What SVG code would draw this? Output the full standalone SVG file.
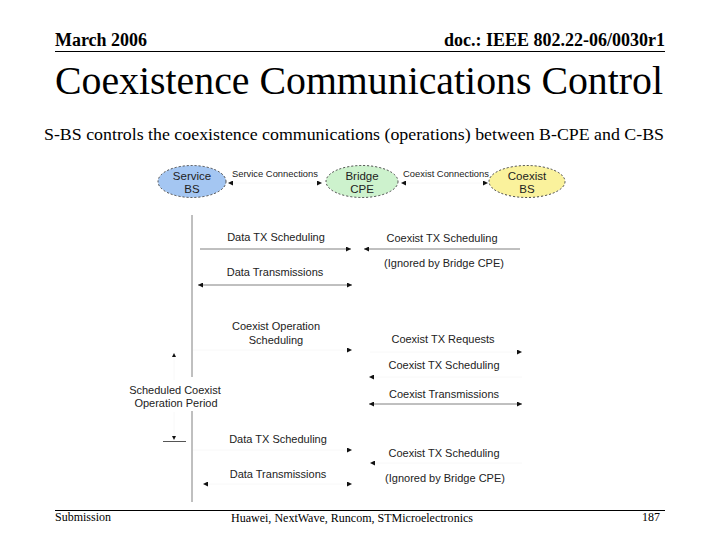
<svg xmlns="http://www.w3.org/2000/svg" width="720" height="540" viewBox="0 0 720 540">
<defs>
<marker id="ah" viewBox="0 0 6 6" refX="6" refY="3" markerWidth="6" markerHeight="5" markerUnits="userSpaceOnUse" orient="auto-start-reverse">
<path d="M0,0 L6,3 L0,6 z" fill="#111"/>
</marker>
<marker id="sm" viewBox="0 0 6 6" refX="6" refY="3" markerWidth="4" markerHeight="4" markerUnits="userSpaceOnUse" orient="auto-start-reverse">
<path d="M0,0 L6,3 L0,6 z" fill="#111"/>
</marker>
<style>
.hdr{font-family:"Liberation Serif","Times New Roman",serif;font-weight:bold;font-size:18px;fill:#000}
.ttl{font-family:"Liberation Serif","Times New Roman",serif;font-size:39px;fill:#000}
.sub{font-family:"Liberation Serif","Times New Roman",serif;font-size:17px;fill:#000}
.ftr{font-family:"Liberation Serif","Times New Roman",serif;font-size:12px;fill:#000}
.nd{font-family:"Liberation Sans",Arial,sans-serif;font-size:11.5px;fill:#222;text-anchor:middle}
.lb{font-family:"Liberation Sans",Arial,sans-serif;font-size:11px;fill:#222;text-anchor:middle}
.sl{font-family:"Liberation Sans",Arial,sans-serif;font-size:9.4px;fill:#222;text-anchor:middle}
.ell{stroke:#444;stroke-width:1;stroke-dasharray:2,2}
.vis{stroke:#808080;stroke-width:1;fill:none}
.faint{stroke:#f8f8f8;stroke-width:1;fill:none}
.one{marker-end:url(#ah)}
.two{marker-start:url(#ah);marker-end:url(#ah)}
.rule{stroke:#000;stroke-width:1.2}
</style>
</defs>
<rect width="720" height="540" fill="#fff"/>

<g id="header">
<text class="hdr" x="55" y="46" textLength="92" lengthAdjust="spacingAndGlyphs">March 2006</text>
<text class="hdr" x="665" y="46" text-anchor="end">doc.: IEEE 802.22-06/0030r1</text>
<line class="rule" x1="55" y1="51.5" x2="665" y2="51.5"/>
<text class="ttl" x="55" y="94" textLength="608" lengthAdjust="spacingAndGlyphs">Coexistence Communications Control</text>
<text class="sub" x="44" y="140" textLength="620" lengthAdjust="spacingAndGlyphs">S-BS controls the coexistence communications (operations) between B-CPE and C-BS</text>
</g>

<g id="node-service-bs">
<ellipse class="ell" cx="192" cy="181.5" rx="34" ry="16" fill="#a4c6f2"/>
<text class="nd" x="192" y="179.5">Service</text>
<text class="nd" x="192" y="192.5">BS</text>
</g>
<g id="node-bridge-cpe">
<ellipse class="ell" cx="362" cy="181.5" rx="36" ry="16" fill="#cdf2cd"/>
<text class="nd" x="362" y="179.5">Bridge</text>
<text class="nd" x="362" y="192.5">CPE</text>
</g>
<g id="node-coexist-bs">
<ellipse class="ell" cx="527" cy="181.5" rx="38" ry="16" fill="#faf29c"/>
<text class="nd" x="527" y="179.5">Coexist</text>
<text class="nd" x="527" y="192.5">BS</text>
</g>

<g id="connectors">
<line class="faint two" x1="228" y1="183" x2="322" y2="183"/>
<line class="faint two" x1="401" y1="183" x2="488" y2="183"/>

<line class="vis" x1="192" y1="215" x2="192" y2="377"/>
<line class="vis" x1="192" y1="411" x2="192" y2="502"/>

<line class="vis one" x1="200" y1="249" x2="351" y2="249"/>
<line class="vis one" x1="520" y1="249" x2="364" y2="249"/>
<line class="vis two" x1="198" y1="285" x2="352" y2="285"/>

<line class="faint one" x1="193" y1="350" x2="352" y2="350"/>
<line class="faint one" x1="370" y1="352" x2="522" y2="352"/>
<line class="faint one" x1="522" y1="377" x2="369" y2="377"/>
<line class="vis two" x1="369" y1="404" x2="522" y2="404"/>

<line class="faint one" x1="193" y1="450" x2="352" y2="450"/>
<line class="faint one" x1="522" y1="463" x2="370" y2="463"/>
<line class="faint two" x1="203" y1="484" x2="352" y2="484"/>

<line class="faint" x1="174" y1="353" x2="174" y2="380" style="marker-start:url(#sm)"/>
<line class="faint" x1="174" y1="412" x2="174" y2="440" style="marker-end:url(#sm)"/>
<line class="vis" x1="163" y1="441.5" x2="186" y2="441.5" style="stroke:#555"/>
</g>

<g id="labels">
<text class="sl" x="275" y="177">Service Connections</text>
<text class="sl" x="446" y="177">Coexist Connections</text>

<text class="lb" x="276" y="241">Data TX Scheduling</text>
<text class="lb" x="442" y="242">Coexist TX Scheduling</text>
<text class="lb" x="444" y="267">(Ignored by Bridge CPE)</text>
<text class="lb" x="275" y="276">Data Transmissions</text>

<text class="lb" x="276" y="330">Coexist Operation</text>
<text class="lb" x="276" y="344">Scheduling</text>
<text class="lb" x="443" y="343">Coexist TX Requests</text>
<text class="lb" x="444" y="369">Coexist TX Scheduling</text>
<text class="lb" x="444" y="398">Coexist Transmissions</text>
<text class="lb" x="175" y="394">Scheduled Coexist</text>
<text class="lb" x="176" y="407">Operation Period</text>

<text class="lb" x="278" y="443">Data TX Scheduling</text>
<text class="lb" x="444" y="457">Coexist TX Scheduling</text>
<text class="lb" x="445" y="482">(Ignored by Bridge CPE)</text>
<text class="lb" x="278" y="478">Data Transmissions</text>
</g>

<g id="footer">
<line class="rule" x1="55" y1="510.5" x2="665" y2="510.5"/>
<text class="ftr" x="55" y="521">Submission</text>
<text class="ftr" x="352" y="522" text-anchor="middle" textLength="242" lengthAdjust="spacingAndGlyphs">Huawei, NextWave, Runcom, STMicroelectronics</text>
<text class="ftr" x="660" y="521" text-anchor="end">187</text>
</g>
</svg>
